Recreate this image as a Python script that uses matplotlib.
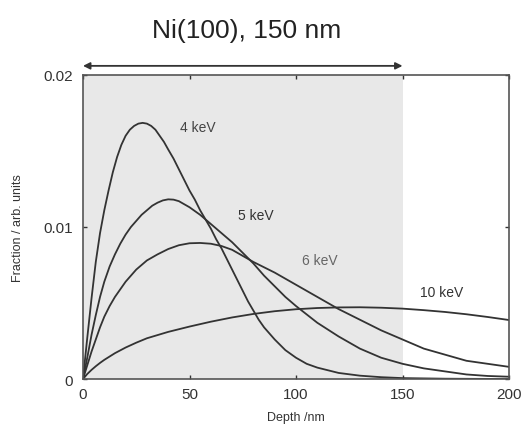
import numpy as np
import matplotlib.pyplot as plt

plt.rcParams['font.family'] = ['Liberation Sans', 'DejaVu Sans']

# depth grids (nm) and fractions
d4 = [0, 2, 4, 6, 8, 10, 12, 14, 16, 18, 20, 22, 24, 26, 28, 30, 32, 34, 36,
      38, 40, 42.5, 45, 47.5, 50, 52.5, 55, 57.5, 60, 62.5, 65, 67.5, 70, 72.5,
      75, 77.5, 80, 82.5, 85, 87.5, 90, 95, 100, 105, 110, 120, 130, 140, 150,
      170, 200]
f4 = [0, 0.0027, 0.0053, 0.0077, 0.0096, 0.0111, 0.0124, 0.0136, 0.0146,
      0.0154, 0.0160, 0.0164, 0.01665, 0.0168, 0.01685, 0.0168, 0.01665,
      0.0164, 0.0160, 0.0156, 0.0151, 0.0145, 0.0138, 0.0131, 0.0124, 0.0118,
      0.0111, 0.0105, 0.0099, 0.0092, 0.0086, 0.0079, 0.0072, 0.0065, 0.0058,
      0.0051, 0.0045, 0.0039, 0.0034, 0.0030, 0.0026, 0.0019, 0.0014, 0.0010,
      0.00075, 0.0004, 0.00022, 0.00012, 0.00006, 0.00002, 0]

d5 = [0, 2, 4, 6, 8, 10, 12.5, 15, 17.5, 20, 22.5, 25, 27.5, 30, 32.5, 35,
      37.5, 40, 42.5, 45, 47.5, 50, 55, 60, 65, 70, 75, 80, 85, 90, 95, 100,
      110, 120, 130, 140, 150, 160, 170, 180, 190, 200]
f5 = [0, 0.0014, 0.0029, 0.0042, 0.0054, 0.0064, 0.0074, 0.0082, 0.0089,
      0.0095, 0.0100, 0.0104, 0.0108, 0.0111, 0.0114, 0.0116, 0.01175, 0.01182,
      0.0118, 0.0117, 0.0115, 0.0113, 0.0108, 0.0102, 0.0096, 0.0090, 0.0083,
      0.0076, 0.0068, 0.0061, 0.0054, 0.0048, 0.0037, 0.0028, 0.0020, 0.0014,
      0.0010, 0.0007, 0.0005, 0.0003, 0.0002, 0.00015]

d6 = [0, 2, 4, 6, 8, 10, 12.5, 15, 17.5, 20, 22.5, 25, 27.5, 30, 35, 40, 45,
      50, 55, 60, 65, 70, 75, 80, 90, 100, 110, 120, 130, 140, 150, 160, 170,
      180, 190, 200]
f6 = [0, 0.0009, 0.0018, 0.0026, 0.0034, 0.0041, 0.0048, 0.0054, 0.0059,
      0.0064, 0.0068, 0.0072, 0.0075, 0.0078, 0.0082, 0.00855, 0.0088, 0.00893,
      0.00895, 0.0089, 0.00875, 0.0085, 0.0081, 0.0077, 0.0070, 0.0062, 0.0054,
      0.0046, 0.0039, 0.0032, 0.0026, 0.0020, 0.0016, 0.0012, 0.0010, 0.0008]

d10 = [0, 2, 4, 6, 8, 10, 15, 20, 25, 30, 40, 50, 60, 70, 80, 90, 100, 110,
       120, 130, 140, 150, 160, 170, 180, 190, 200]
f10 = [0, 0.00033, 0.0006, 0.00084, 0.00106, 0.00126, 0.0017, 0.00207,
       0.00239, 0.00268, 0.0031, 0.00345, 0.00377, 0.00405, 0.00428, 0.00446,
       0.00459, 0.00467, 0.00471, 0.00472, 0.00469, 0.00463, 0.00453, 0.00441,
       0.00426, 0.00408, 0.00388]

labels = ['4 keV', '5 keV', '6 keV', '10 keV']
label_pos = [(45.5, 0.0166), (72.8, 0.0108), (103, 0.0078), (158, 0.0057)]
label_col = ['#444444', '#333333', '#666666', '#333333']

xticks = [0, 50, 100, 150, 200]
yticks = [0, 0.01, 0.02]
ytick_labels = ['0', '0.01', '0.02']

fig = plt.figure(figsize=(5.31, 4.31), dpi=100)
ax = fig.add_axes([0.1563, 0.1183, 0.8023, 0.7054])

ax.axvspan(0, 150, color='#e8e8e8', lw=0, zorder=0)

for d, f in [(d4, f4), (d5, f5), (d6, f6), (d10, f10)]:
    ax.plot(d, f, color='#333333', lw=1.3)

for lab, (x, y), c in zip(labels, label_pos, label_col):
    ax.text(x, y, lab, fontsize=10, color=c, va='center', ha='left')

ax.set_xlim(0, 200)
ax.set_ylim(0, 0.02)
ax.set_xticks(xticks)
ax.set_xticklabels([str(t) for t in xticks])
ax.set_yticks(yticks)
ax.set_yticklabels(ytick_labels)
ax.tick_params(direction='in', length=3, width=1, top=True, right=True,
               labelsize=11, colors='#333333', pad=6)
ax.tick_params(axis='y', pad=7)
for s in ax.spines.values():
    s.set_color('#555555')
    s.set_linewidth(1.2)

ax.set_xlabel('Depth /nm', fontsize=9, color='#333333', labelpad=7)
ax.set_ylabel('Fraction / arb. units', fontsize=9, color='#333333', labelpad=14)

# film thickness arrow
ax.annotate('', xy=(150, 1.03), xytext=(0, 1.03),
            xycoords=('data', 'axes fraction'),
            textcoords=('data', 'axes fraction'),
            arrowprops=dict(arrowstyle='<|-|>', color='#333333', lw=1.3,
                            mutation_scale=10, shrinkA=0, shrinkB=0),
            annotation_clip=False)

fig.text(247 / 531, 1 - 31 / 431, 'Ni(100), 150 nm', fontsize=19,
         ha='center', va='center', color='#222222')

fig.savefig('out.png', dpi=100)
